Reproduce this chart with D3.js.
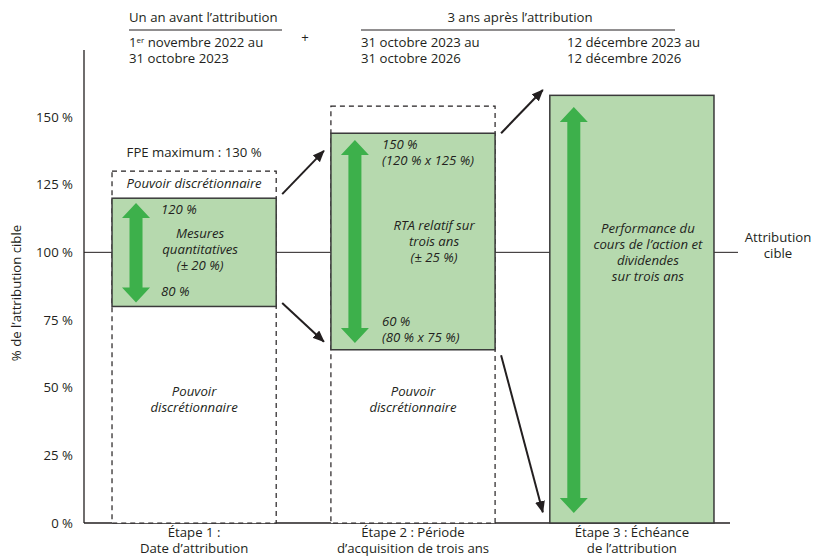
<!DOCTYPE html>
<html>
<head>
<meta charset="utf-8">
<script src="https://cdn.jsdelivr.net/npm/d3@7"></script>
<style>
  body { margin: 0; background: #fff; }
  svg text { font-family: "Open Sans", "Noto Sans", sans-serif; font-size: 13.2px; fill: #231f20; }
  .it { font-style: italic; }
</style>
</head>
<body>
<div id="chart"></div>
<script>
// Données du graphique
const stages = ["etape1", "etape2", "etape3"];
const stageLabels = [
    ["Étape 1 :", "Date d’attribution"],
    ["Étape 2 : Période", "d’acquisition de trois ans"],
    ["Étape 3 : Échéance", "de l’attribution"]
];
const yTicks = [0, 25, 50, 75, 100, 125, 150];
// plafond du pouvoir discrétionnaire (boîte pointillée)
const discretionTop = [130, 154, null];
// boîte verte (valeurs tracées)
const greenLow = [80, 64, 0];
const greenHigh = [120, 144, 158];
// flèches vertes
const arrowLow = [81.5, 66.5, 3.7];
const arrowHigh = [118.2, 141.5, 153.7];
// flèches noires entre les étapes
const linkFrom = [0, 0, 1, 1];
const linkFromY = [121.5, 81.3, 144, 62];
const linkToY = [137.5, 67, 160, 4];
const target = 100;

const width = 816, height = 560;
const svg = d3.select("#chart").append("svg")
    .attr("width", width).attr("height", height);

const x = d3.scaleBand().domain(stages).range([84, 742])
    .paddingInner(0.25).paddingOuter(0.128);
const y = d3.scaleLinear().domain([0, 150]).range([523, 117]);
const bw = x.bandwidth();
const ink = "#231f20";

svg.append("defs").append("marker")
    .attr("id", "head").attr("viewBox", "0 0 12 10")
    .attr("refX", 11).attr("refY", 5)
    .attr("markerWidth", 12).attr("markerHeight", 10)
    .attr("markerUnits", "userSpaceOnUse")
    .attr("orient", "auto")
    .append("path").attr("d", "M0,0 L12,5 L0,10 Z").attr("fill", ink);

// --- En-tête ---
const head = svg.append("g");
head.append("text").attr("x", 129).attr("y", 22).text("Un an avant l’attribution");
head.append("line").attr("x1", 129).attr("x2", 282).attr("y1", 30).attr("y2", 30)
    .attr("stroke", ink).attr("stroke-width", 1);
const t1 = head.append("text").attr("x", 129).attr("y", 47);
t1.append("tspan").text("1");
t1.append("tspan").attr("font-size", "8px").attr("dy", -4).text("er");
t1.append("tspan").attr("dy", 4).text(" novembre 2022 au");
head.append("text").attr("x", 129).attr("y", 63).text("31 octobre 2023");
head.append("text").attr("x", 305).attr("y", 42).attr("text-anchor", "middle")
    .attr("font-size", "11px").text("+");

head.append("text").attr("x", 520).attr("y", 22).attr("text-anchor", "middle").text("3 ans après l’attribution");
head.append("line").attr("x1", 361).attr("x2", 675).attr("y1", 30).attr("y2", 30)
    .attr("stroke", ink).attr("stroke-width", 1);
head.append("text").attr("x", 361).attr("y", 47).text("31 octobre 2023 au");
head.append("text").attr("x", 361).attr("y", 63).text("31 octobre 2026");
head.append("text").attr("x", 567).attr("y", 47).text("12 décembre 2023 au");
head.append("text").attr("x", 567).attr("y", 63).text("12 décembre 2026");

// --- Axe Y ---
svg.append("line").attr("x1", 84).attr("x2", 84).attr("y1", 50).attr("y2", y(0))
    .attr("stroke", ink).attr("stroke-width", 1.3);
svg.append("line").attr("x1", 84).attr("x2", 730).attr("y1", y(0)).attr("y2", y(0))
    .attr("stroke", ink).attr("stroke-width", 1.3);
svg.append("g").selectAll("text").data(yTicks).join("text")
    .attr("x", 73).attr("y", d => y(d) + 4.5)
    .attr("text-anchor", "end")
    .text(d => d + " %");
svg.append("text")
    .attr("transform", `translate(21,293) rotate(-90)`)
    .attr("text-anchor", "middle")
    .text("% de l’attribution cible");

// ligne de l'attribution cible
svg.append("line").attr("x1", 84).attr("x2", 738).attr("y1", y(target)).attr("y2", y(target))
    .attr("stroke", ink).attr("stroke-width", 1);
svg.append("text").attr("x", 778).attr("y", y(target) - 10).attr("text-anchor", "middle").text("Attribution");
svg.append("text").attr("x", 778).attr("y", y(target) + 6).attr("text-anchor", "middle").text("cible");

// --- Boîtes pointillées (pouvoir discrétionnaire) ---
stages.forEach((s, i) => {
    if (discretionTop[i] == null) return;
    svg.append("rect")
        .attr("x", x(s)).attr("y", y(discretionTop[i]))
        .attr("width", bw).attr("height", y(0) - y(discretionTop[i]))
        .attr("fill", "#fff").attr("stroke", ink).attr("stroke-width", 1.2)
        .attr("stroke-dasharray", "5,4");
});

// --- Boîtes vertes ---
svg.append("g").selectAll("rect").data(stages).join("rect")
    .attr("x", d => x(d))
    .attr("y", (d, i) => y(greenHigh[i]))
    .attr("width", bw)
    .attr("height", (d, i) => y(greenLow[i]) - y(greenHigh[i]))
    .attr("fill", "#b6d9ae")
    .attr("stroke", "#3a3a3a").attr("stroke-width", 1.5);

// --- Flèches vertes doubles ---
function doubleArrow(cx, yTop, yBot) {
    const hw = 14, hh = 15, sw = 6.5;
    const p = [
        [cx, yTop], [cx + hw, yTop + hh], [cx + sw, yTop + hh],
        [cx + sw, yBot - hh], [cx + hw, yBot - hh], [cx, yBot],
        [cx - hw, yBot - hh], [cx - sw, yBot - hh], [cx - sw, yTop + hh],
        [cx - hw, yTop + hh]
    ];
    svg.append("path").attr("d", "M" + p.join("L") + "Z").attr("fill", "#3db04b");
}
stages.forEach((s, i) => doubleArrow(x(s) + 24, y(arrowHigh[i]), y(arrowLow[i])));

// --- Flèches noires ---
linkFrom.forEach((f, i) => {
    svg.append("line")
        .attr("x1", x(stages[f]) + bw + 6).attr("y1", y(linkFromY[i]))
        .attr("x2", x(stages[f + 1]) - 7).attr("y2", y(linkToY[i]))
        .attr("stroke", ink).attr("stroke-width", 2)
        .attr("marker-end", "url(#head)");
});

// --- Textes ---
function lines(cx, y0, arr, cls, anchor) {
    arr.forEach((t, k) => {
        svg.append("text").attr("x", cx).attr("y", y0 + k * 16)
            .attr("text-anchor", anchor || "middle")
            .attr("class", cls || null).text(t);
    });
}
const c = s => x(s) + bw / 2;
lines(c("etape1"), y(discretionTop[0]) - 14, ["FPE maximum : 130 %"]);
lines(c("etape1"), y(discretionTop[0]) + 17, ["Pouvoir discrétionnaire"], "it");
lines(x("etape1") + 49, y(greenHigh[0]) + 16, ["120 %"], "it", "start");
lines(c("etape1") + 6, 238, ["Mesures", "quantitatives", "(± 20 %)"], "it");
lines(x("etape1") + 49, y(greenLow[0]) - 10, ["80 %"], "it", "start");
lines(c("etape1"), 396, ["Pouvoir", "discrétionnaire"], "it");

lines(x("etape2") + 51, 149, ["150 %", "(120 % x 125 %)"], "it", "start");
lines(c("etape2") + 21, 230, ["RTA relatif sur", "trois ans", "(± 25 %)"], "it");
lines(x("etape2") + 51, 326, ["60 %", "(80 % x 75 %)"], "it", "start");
lines(c("etape2"), 396, ["Pouvoir", "discrétionnaire"], "it");

lines(c("etape3") + 16, 233, ["Performance du", "cours de l’action et", "dividendes", "sur trois ans"], "it");

// étiquettes du bas
stages.forEach((s, i) => lines(c(s), 537, stageLabels[i]));
</script>
</body>
</html>
